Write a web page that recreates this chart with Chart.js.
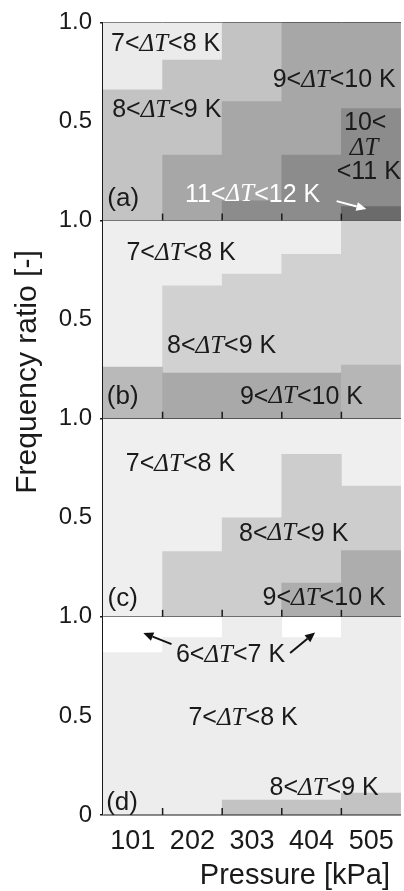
<!DOCTYPE html>
<html>
<head>
<meta charset="utf-8">
<script src="https://cdn.jsdelivr.net/npm/chart.js@4.4.1/dist/chart.umd.min.js"></script>
<style>
  html, body { margin: 0; padding: 0; background: #fff; }
  #chart { display: block; }
</style>
</head>
<body>
<canvas id="chart" width="404" height="891"></canvas>
<script>
// categories + ticks
const pressures = ['101', '202', '303', '404', '505'];
const yTicks = [0, 0.5, 1];

// frequency ratio of each dT class per pressure, bottom class first
// (a)
const a_11_12 = [0, 0, 0, 0, 0.07];
const a_10_11 = [0, 0, 0.10, 0.33, 0.495];
const a_9_10  = [0, 0.33, 0.50, 0.67, 0.435];
const a_8_9   = [0.66, 0.48, 0.40, 0, 0];
const a_7_8   = [0.34, 0.19, 0, 0, 0];
// (b)
const b_9_10 = [0.26, 0.23, 0.23, 0.23, 0.27];
const b_8_9  = [0, 0.44, 0.50, 0.60, 0.73];
const b_7_8  = [0.74, 0.33, 0.27, 0.17, 0];
// (c)
const c_9_10 = [0, 0, 0, 0.17, 0.335];
const c_8_9  = [0, 0.33, 0.50, 0.65, 0.325];
const c_7_8  = [1.0, 0.67, 0.50, 0.18, 0.34];
// (d)
const d_8_9 = [0, 0, 0.075, 0.075, 0.11];
const d_7_8 = [0.82, 0.895, 0.925, 0.82, 0.89];
const d_6_7 = [0.18, 0.105, 0, 0.105, 0];

const panels = [
  { id: 'ya', tag: '(a)', sets: [
    ['11<ΔT<12 K', a_11_12, '#6b6b6b'],
    ['10<ΔT<11 K', a_10_11, '#8c8c8c'],
    ['9<ΔT<10 K', a_9_10, '#a7a7a7'],
    ['8<ΔT<9 K', a_8_9, '#c3c3c3'],
    ['7<ΔT<8 K', a_7_8, '#ebebeb']] },
  { id: 'yb', tag: '(b)', sets: [
    ['9<ΔT<10 K', b_9_10, ['#b9b9b9', '#a9a9a9', '#a9a9a9', '#a9a9a9', '#b6b6b6']],
    ['8<ΔT<9 K', b_8_9, '#d1d1d1'],
    ['7<ΔT<8 K', b_7_8, '#eeeeee']] },
  { id: 'yc', tag: '(c)', sets: [
    ['9<ΔT<10 K', c_9_10, '#adadad'],
    ['8<ΔT<9 K', c_8_9, '#cdcdcd'],
    ['7<ΔT<8 K', c_7_8, '#efefef']] },
  { id: 'yd', tag: '(d)', sets: [
    ['8<ΔT<9 K', d_8_9, '#c3c3c3'],
    ['7<ΔT<8 K', d_7_8, '#ededed'],
    ['6<ΔT<7 K', d_6_7, '#ffffff']] }
];

// annotations, in category index / frequency ratio units
const notes = [
  { axis: 'ya', text: '7<ΔT<8 K', x: 0.55, y: 0.89 },
  { axis: 'ya', text: '8<ΔT<9 K', x: 0.57, y: 0.555 },
  { axis: 'ya', text: '9<ΔT<10 K', x: 3.38, y: 0.707 },
  { axis: 'ya', text: '10<', x: 3.9, y: 0.49 },
  { axis: 'ya', text: 'ΔT', x: 3.88, y: 0.365 },
  { axis: 'ya', text: '<11 K', x: 3.96, y: 0.245 },
  { axis: 'ya', text: '11<ΔT<12 K', x: 2.01, y: 0.13, color: '#ffffff' },
  { axis: 'yb', text: '7<ΔT<8 K', x: 0.81, y: 0.835 },
  { axis: 'yb', text: '8<ΔT<9 K', x: 1.49, y: 0.364 },
  { axis: 'yb', text: '9<ΔT<10 K', x: 2.83, y: 0.111 },
  { axis: 'yc', text: '7<ΔT<8 K', x: 0.8, y: 0.77 },
  { axis: 'yc', text: '8<ΔT<9 K', x: 2.7, y: 0.42 },
  { axis: 'yc', text: '9<ΔT<10 K', x: 3.21, y: 0.093 },
  { axis: 'yd', text: '6<ΔT<7 K', x: 1.64, y: 0.807 },
  { axis: 'yd', text: '7<ΔT<8 K', x: 1.85, y: 0.488 },
  { axis: 'yd', text: '8<ΔT<9 K', x: 3.21, y: 0.135 }
];
const tagPos = [{ x: -0.16, y: 0.108 }, { x: -0.17, y: 0.111 }, { x: -0.17, y: 0.093 }, { x: -0.18, y: 0.062 }];
const arrows = [
  { axis: 'ya', from: [3.42, 0.098], to: [3.92, 0.058], color: '#ffffff' },
  { axis: 'yd', from: [0.65, 0.862], to: [0.176, 0.919], color: '#111111' },
  { axis: 'yd', from: [2.64, 0.818], to: [3.06, 0.921], color: '#111111' }
];

const INK = '#1a1a1a';
const SANS = '"Liberation Sans", Arial, sans-serif';
Chart.defaults.font.family = SANS;

function richText(ctx, text, cx, cy, size, color) {
  const sans = size + 'px ' + SANS;
  const ital = 'italic ' + size + 'px "Liberation Serif", "Times New Roman", serif';
  const bits = [];
  text.split('ΔT').forEach((s, i) => {
    if (i > 0) bits.push(['ΔT', ital]);
    if (s) bits.push([s, sans]);
  });
  let w = 0;
  bits.forEach(b => { ctx.font = b[1]; b.push(ctx.measureText(b[0]).width); w += b[2]; });
  let x = cx - w / 2;
  ctx.fillStyle = color;
  ctx.textBaseline = 'middle';
  ctx.textAlign = 'left';
  bits.forEach(b => { ctx.font = b[1]; ctx.fillText(b[0], x, cy); x += b[2]; });
}

function arrow(ctx, x1, y1, x2, y2, color) {
  const a = Math.atan2(y2 - y1, x2 - x1), head = 10, half = 4.5;
  const bx = x2 - head * Math.cos(a), by = y2 - head * Math.sin(a);
  ctx.strokeStyle = color;
  ctx.fillStyle = color;
  ctx.lineWidth = 2;
  ctx.beginPath();
  ctx.moveTo(x1, y1);
  ctx.lineTo(bx, by);
  ctx.stroke();
  ctx.beginPath();
  ctx.moveTo(x2, y2);
  ctx.lineTo(bx + half * Math.sin(a), by - half * Math.cos(a));
  ctx.lineTo(bx - half * Math.sin(a), by + half * Math.cos(a));
  ctx.closePath();
  ctx.fill();
}

const decor = {
  id: 'decor',
  afterDraw(chart) {
    const ctx = chart.ctx;
    const xs = chart.scales.x;
    ctx.save();
    // short ticks between categories, at the bottom of every panel
    ctx.strokeStyle = INK;
    ctx.lineWidth = 1.5;
    panels.forEach(p => {
      const ys = chart.scales[p.id];
      for (let i = 0; i < pressures.length - 1; i++) {
        const px = (xs.getPixelForValue(i) + xs.getPixelForValue(i + 1)) / 2;
        ctx.beginPath();
        ctx.moveTo(px, ys.bottom);
        ctx.lineTo(px, ys.bottom - 7);
        ctx.stroke();
      }
    });
    notes.forEach(n => {
      const ys = chart.scales[n.axis];
      richText(ctx, n.text, xs.getPixelForValue(n.x), ys.getPixelForValue(n.y), 25, n.color || INK);
    });
    panels.forEach((p, i) => {
      const ys = chart.scales[p.id];
      richText(ctx, p.tag, xs.getPixelForValue(tagPos[i].x), ys.getPixelForValue(tagPos[i].y), 26, INK);
    });
    arrows.forEach(a => {
      const ys = chart.scales[a.axis];
      arrow(ctx, xs.getPixelForValue(a.from[0]), ys.getPixelForValue(a.from[1]),
        xs.getPixelForValue(a.to[0]), ys.getPixelForValue(a.to[1]), a.color);
    });
    // axis titles
    ctx.fillStyle = INK;
    ctx.font = '29px ' + SANS;
    ctx.textBaseline = 'alphabetic';
    ctx.textAlign = 'right';
    ctx.fillText('Pressure [kPa]', chart.chartArea.right - 11, 884);
    ctx.translate(36, 372);
    ctx.rotate(-Math.PI / 2);
    ctx.textAlign = 'center';
    ctx.font = '30px ' + SANS;
    ctx.fillText('Frequency ratio [-]', 0, 0);
    ctx.restore();
  }
};

const datasets = [];
panels.forEach(p => p.sets.forEach(([label, values, color]) => datasets.push({
  label: label,
  data: values.map(v => v === 0 ? null : v),
  yAxisID: p.id,
  stack: 'all',
  backgroundColor: color,
  borderWidth: 0,
  categoryPercentage: 1,
  barPercentage: 1
})));

const scales = {
  x: {
    type: 'category',
    stacked: true,
    grid: { display: false, drawTicks: false },
    border: { display: false },
    ticks: { font: { size: 27 }, color: INK, padding: 10 },
    afterFit: s => { s.height = 76; }
  }
};
// stacked axes are laid out bottom-up in definition order, so add (d) first
panels.map((p, i) => [p, i]).reverse().forEach(([p, i]) => {
  const last = i === panels.length - 1;
  scales[p.id] = {
    type: 'linear',
    position: 'left',
    stack: 'panels',
    stackWeight: 1,
    stacked: true,
    min: 0,
    max: 1,
    offset: false,
    z: 1,
    afterBuildTicks: s => { s.ticks = yTicks.map(v => ({ value: v })); },
    afterFit: s => { s.width = 103; },
    ticks: {
      autoSkip: false,
      font: { size: 24 },
      color: INK,
      padding: 8,
      callback: v => v === 0 ? (last ? '0' : '') : v.toFixed(1)
    },
    grid: {
      lineWidth: 1.5,
      tickLength: 3,
      color: c => (c.tick && (c.tick.value === 0 || (i === 0 && c.tick.value === 1))) ? INK : 'rgba(0,0,0,0)'
    },
    border: { color: INK, width: 1.5 }
  };
});

new Chart(document.getElementById('chart'), {
  type: 'bar',
  data: { labels: pressures, datasets: datasets },
  options: {
    responsive: false,
    animation: false,
    devicePixelRatio: 1,
    layout: { padding: { top: 19, right: 3, left: 0, bottom: 0 } },
    plugins: { legend: { display: false }, tooltip: { enabled: false } },
    scales: scales
  },
  plugins: [decor]
});
</script>
</body>
</html>
